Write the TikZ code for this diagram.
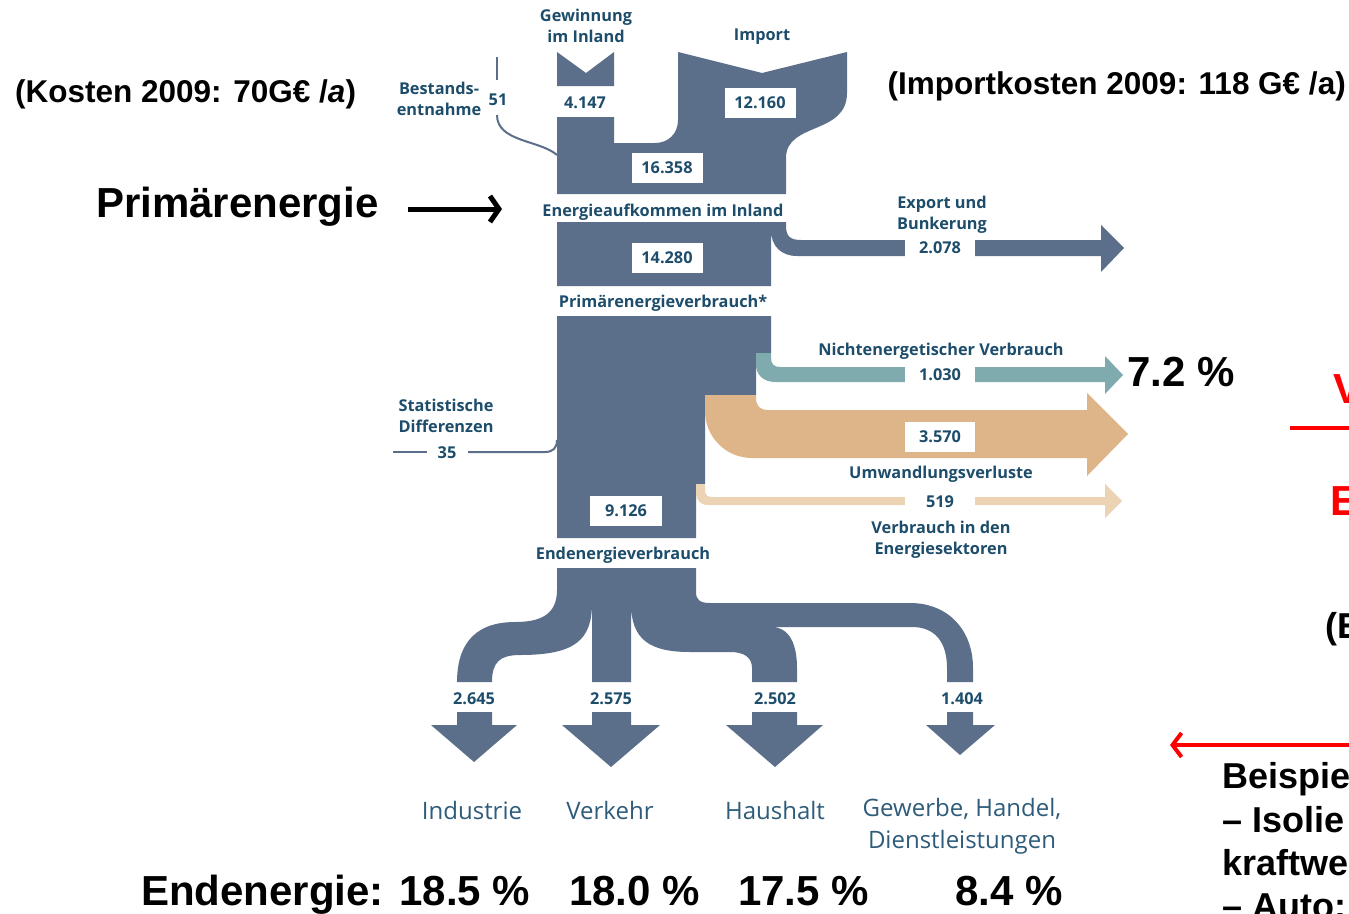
\documentclass[tikz,border=0pt]{standalone}
\usepackage{fontspec}
\setmainfont{Liberation Sans}
\newfontfamily\df{Open Sans}
\usetikzlibrary{arrows.meta}
\definecolor{flow}{HTML}{5B6F8A}
\definecolor{teal2}{HTML}{7FAAAE}
\definecolor{tan2}{HTML}{DDB588}
\definecolor{ltan}{HTML}{EBD3B4}
\definecolor{lbl}{HTML}{1D4D6B}
\definecolor{sectc}{HTML}{2E5C7A}
\definecolor{redx}{HTML}{FF0000}
\begin{document}
\begin{tikzpicture}[x=1pt,y=-1pt,
  lab/.style={font=\df\bfseries\fontsize{16.3}{21}\selectfont, text=lbl, align=center, inner sep=0pt},
  numbox/.style={lab, fill=white, minimum width=71pt, minimum height=30pt},
  gapbox/.style={lab, fill=white, minimum width=70pt, minimum height=18pt},
  sect/.style={font=\df\fontsize{24}{32}\selectfont, text=sectc, align=center, inner sep=0pt},
  big/.style={font=\bfseries\fontsize{42}{48}\selectfont, inner sep=0pt, anchor=base west},
  mid/.style={font=\bfseries\fontsize{31.5}{43}\selectfont, inner sep=0pt, anchor=base west},
  side/.style={font=\bfseries\fontsize{36}{43}\selectfont, inner sep=0pt, anchor=base west},
  thinline/.style={flow, line width=2pt},
  ]
\clip (0,0) rectangle (1349,913);
\fill[white] (0,0) rectangle (1349,913);

% ---------- top: Gewinnung stub ----------
\fill[flow] (557,52) -- (586,73) -- (614,52) -- (614,86) -- (557,86) -- cycle;
% ---------- top main block with import ----------
\fill[flow] (557,117) -- (614,117) -- (614,143) -- (655,143)
  .. controls (668,143) and (678,134) .. (678,120) -- (678,52) -- (762,73) -- (847,52) -- (847,93)
  .. controls (847,135) and (786,122) .. (786,158) -- (786,194) -- (557,194) -- cycle;
% Bestandsentnahme line
\coordinate (b1) at (497,57);
\coordinate (b2) at (497,80);
\coordinate (b3) at (497,115);
\coordinate (b4) at (557,155);
\draw[thinline] (b1) -- (b2);
\draw[thinline] (b3) .. controls (497,142) and (540,140) .. (b4);

% ---------- second block with export ----------
\fill[flow] (557,222) -- (786,222) -- (786,226) .. controls (786,236) and (790,240) .. (801,240)
  -- (1101,240) -- (1101,225) -- (1124,248) -- (1101,272) -- (1101,256) -- (797,256)
  .. controls (781,256) and (771,246) .. (771,230) -- (771,286) -- (557,286) -- cycle;

% ---------- third block ----------
\fill[flow] (557,316) -- (771,316) -- (771,353) -- (756,353) -- (756,395) -- (705,395)
  -- (705,484) -- (696,484) -- (696,538) -- (557,538) -- cycle;
% teal
\fill[teal2] (756,353) -- (771,353) -- (771,358) .. controls (771,364) and (774,367) .. (780,367)
  -- (1105,367) -- (1105,356) -- (1123,375) -- (1105,394) -- (1105,382) -- (775,382)
  .. controls (764,382) and (756,375) .. (756,365) -- cycle;
% tan
\fill[tan2] (705,395) -- (756,395) -- (756,398) .. controls (756,406) and (760,410) .. (768,410)
  -- (1087,410) -- (1087,393) -- (1128,434) -- (1087,476) -- (1087,458) -- (752,458)
  .. controls (726,458) and (705,437) .. (705,411) -- cycle;
% light tan
\fill[ltan] (696,484) -- (705,484) -- (705,490) .. controls (705,495) and (707,497) .. (712,497)
  -- (1105,497) -- (1105,484) -- (1122,501) -- (1105,518) -- (1105,505) -- (708,505)
  .. controls (700,505) and (696,500) .. (696,492) -- cycle;
% statistical differences line
\coordinate (s1) at (393,452);
\coordinate (s2) at (427,452);
\coordinate (s3) at (468,452);
\coordinate (s4) at (557,440);
\draw[thinline] (s1) -- (s2);
\draw[thinline] (s3) -- (545,452) .. controls (553,452) and (557,448) .. (s4);

% ---------- end energy block with branches ----------
\fill[flow] (557,568) -- (696,568) -- (696,592) .. controls (696,600) and (700,603) .. (710,603)
  -- (910,603) .. controls (948,603) and (973,630) .. (973,668) -- (973,682) -- (947,682)
  -- (947,668) .. controls (947,642) and (935,627) .. (912,627) -- (771,627)
  .. controls (790,627) and (797,645) .. (797,668) -- (797,682) -- (752,682) -- (752,668)
  .. controls (752,658) and (745,652) .. (730,652) -- (690,652)
  .. controls (650,652) and (631,640) .. (631,603) -- (631,682) -- (592,682) -- (592,603)
  .. controls (592,640) and (575,655) .. (520,655) .. controls (500,655) and (492,662) .. (492,682)
  -- (457,682) .. controls (457,650) and (470,622) .. (515,622)
  .. controls (540,622) and (557,615) .. (557,590) -- cycle;
% down arrows
\fill[flow] (457,712) -- (492,712) -- (492,725) -- (517,725) -- (474,762) -- (431,725) -- (457,725) -- cycle;
\fill[flow] (592,712) -- (631,712) -- (631,725) -- (660,725) -- (611,767) -- (562,725) -- (592,725) -- cycle;
\fill[flow] (752,712) -- (797,712) -- (797,725) -- (823,725) -- (775,767) -- (726,725) -- (752,725) -- cycle;
\fill[flow] (947,712) -- (973,712) -- (973,725) -- (995,725) -- (960,755) -- (926,725) -- (947,725) -- cycle;

% ---------- diagram labels ----------
\node[lab] (gew) at (586,26) {Gewinnung\\im Inland};
\node[lab] (imp) at (762,37) {Import};
\node[lab] (best) at (439,99) {Bestands-\\entnahme};
\node[lab] (v51) at (498,100) {51};
\node[lab] (v4147) at (585,103) {4.147};
\node[numbox] (v12160) at (760,103) {12.160};
\node[numbox] (v16358) at (667,168) {16.358};
\node[lab] (eai) at (663,212) {Energieaufkommen im Inland};
\node[lab] (exp) at (942,215) {Export und\\Bunkerung};
\node[gapbox] (v2078) at (940,248) {2.078};
\node[numbox] (v14280) at (667,258) {14.280};
\node[lab] (pev) at (663,303) {Primärenergieverbrauch*};
\node[lab] (nev) at (941,351) {Nichtenergetischer Verbrauch};
\node[gapbox] (v1030) at (940,375) {1.030};
\node[numbox, minimum width=70pt] (v3570) at (940,437) {3.570};
\node[lab] (uwv) at (941,474) {Umwandlungsverluste};
\node[gapbox] (v519) at (940,502) {519};
\node[lab] (vie) at (941,540) {Verbrauch in den\\Energiesektoren};
\node[lab] (std) at (446,416) {Statistische\\Differenzen};
\node[lab] (v35) at (447,453) {35};
\node[numbox, minimum width=72pt] (v9126) at (626,511) {9.126};
\node[lab] (eev) at (623,555) {Endenergieverbrauch};
\node[lab] (v2645) at (474,699) {2.645};
\node[lab] (v2575) at (611,699) {2.575};
\node[lab] (v2502) at (775,699) {2.502};
\node[lab] (v1404) at (962,699) {1.404};
\node[sect] (ind) at (472,810) {Industrie};
\node[sect] (ver) at (610,810) {Verkehr};
\node[sect] (hau) at (775,810) {Haushalt};
\node[sect] (gew2) at (962,826) {Gewerbe, Handel,\\Dienstleistungen};

% ---------- black / red annotations ----------
\node[mid] (kost) at (15,102) {(Kosten 2009: 70G€ /\textit{a})};
\node[mid, anchor=base east] (ikost) at (1346,94) {(Importkosten 2009: 118 G€ /a)};
\node[big] (prim) at (96,217) {Primärenergie};
\coordinate (pa1) at (408,209);
\coordinate (pa2) at (502,209);
\draw[line width=5pt, -{Straight Barb[length=9pt,width=26pt]}] (pa1) -- (pa2);
\node[big] (p72) at (1127,386) {7.2 \%};
\node[big] (ende) at (141,905) {Endenergie: 18.5 \%};
\node[big] (p180) at (569,905) {18.0 \%};
\node[big] (p175) at (738,905) {17.5 \%};
\node[big] (p84) at (955,905) {8.4 \%};
\node[big, text=redx] (rv) at (1333,403) {V};
\coordinate (rl1) at (1290,428);
\coordinate (rl2) at (1349,428);
\draw[redx, line width=4pt] (rl1) -- (rl2);
\node[big, text=redx] (re) at (1330,515) {E};
\node[side] (pe) at (1325,638) {(E};
\coordinate (ra1) at (1352,745);
\coordinate (ra2) at (1170,745);
\draw[redx, line width=4pt, -{Straight Barb[length=9pt,width=24pt]}] (ra1) -- (ra2);
\node[side] (bs1) at (1222,788) {Beispie};
\node[side] (bs2) at (1222,832) {– Isolie};
\node[side] (bs3) at (1222,875) {kraftwe};
\node[side] (bs4) at (1222,918) {– Auto:};
\end{tikzpicture}
\end{document}
